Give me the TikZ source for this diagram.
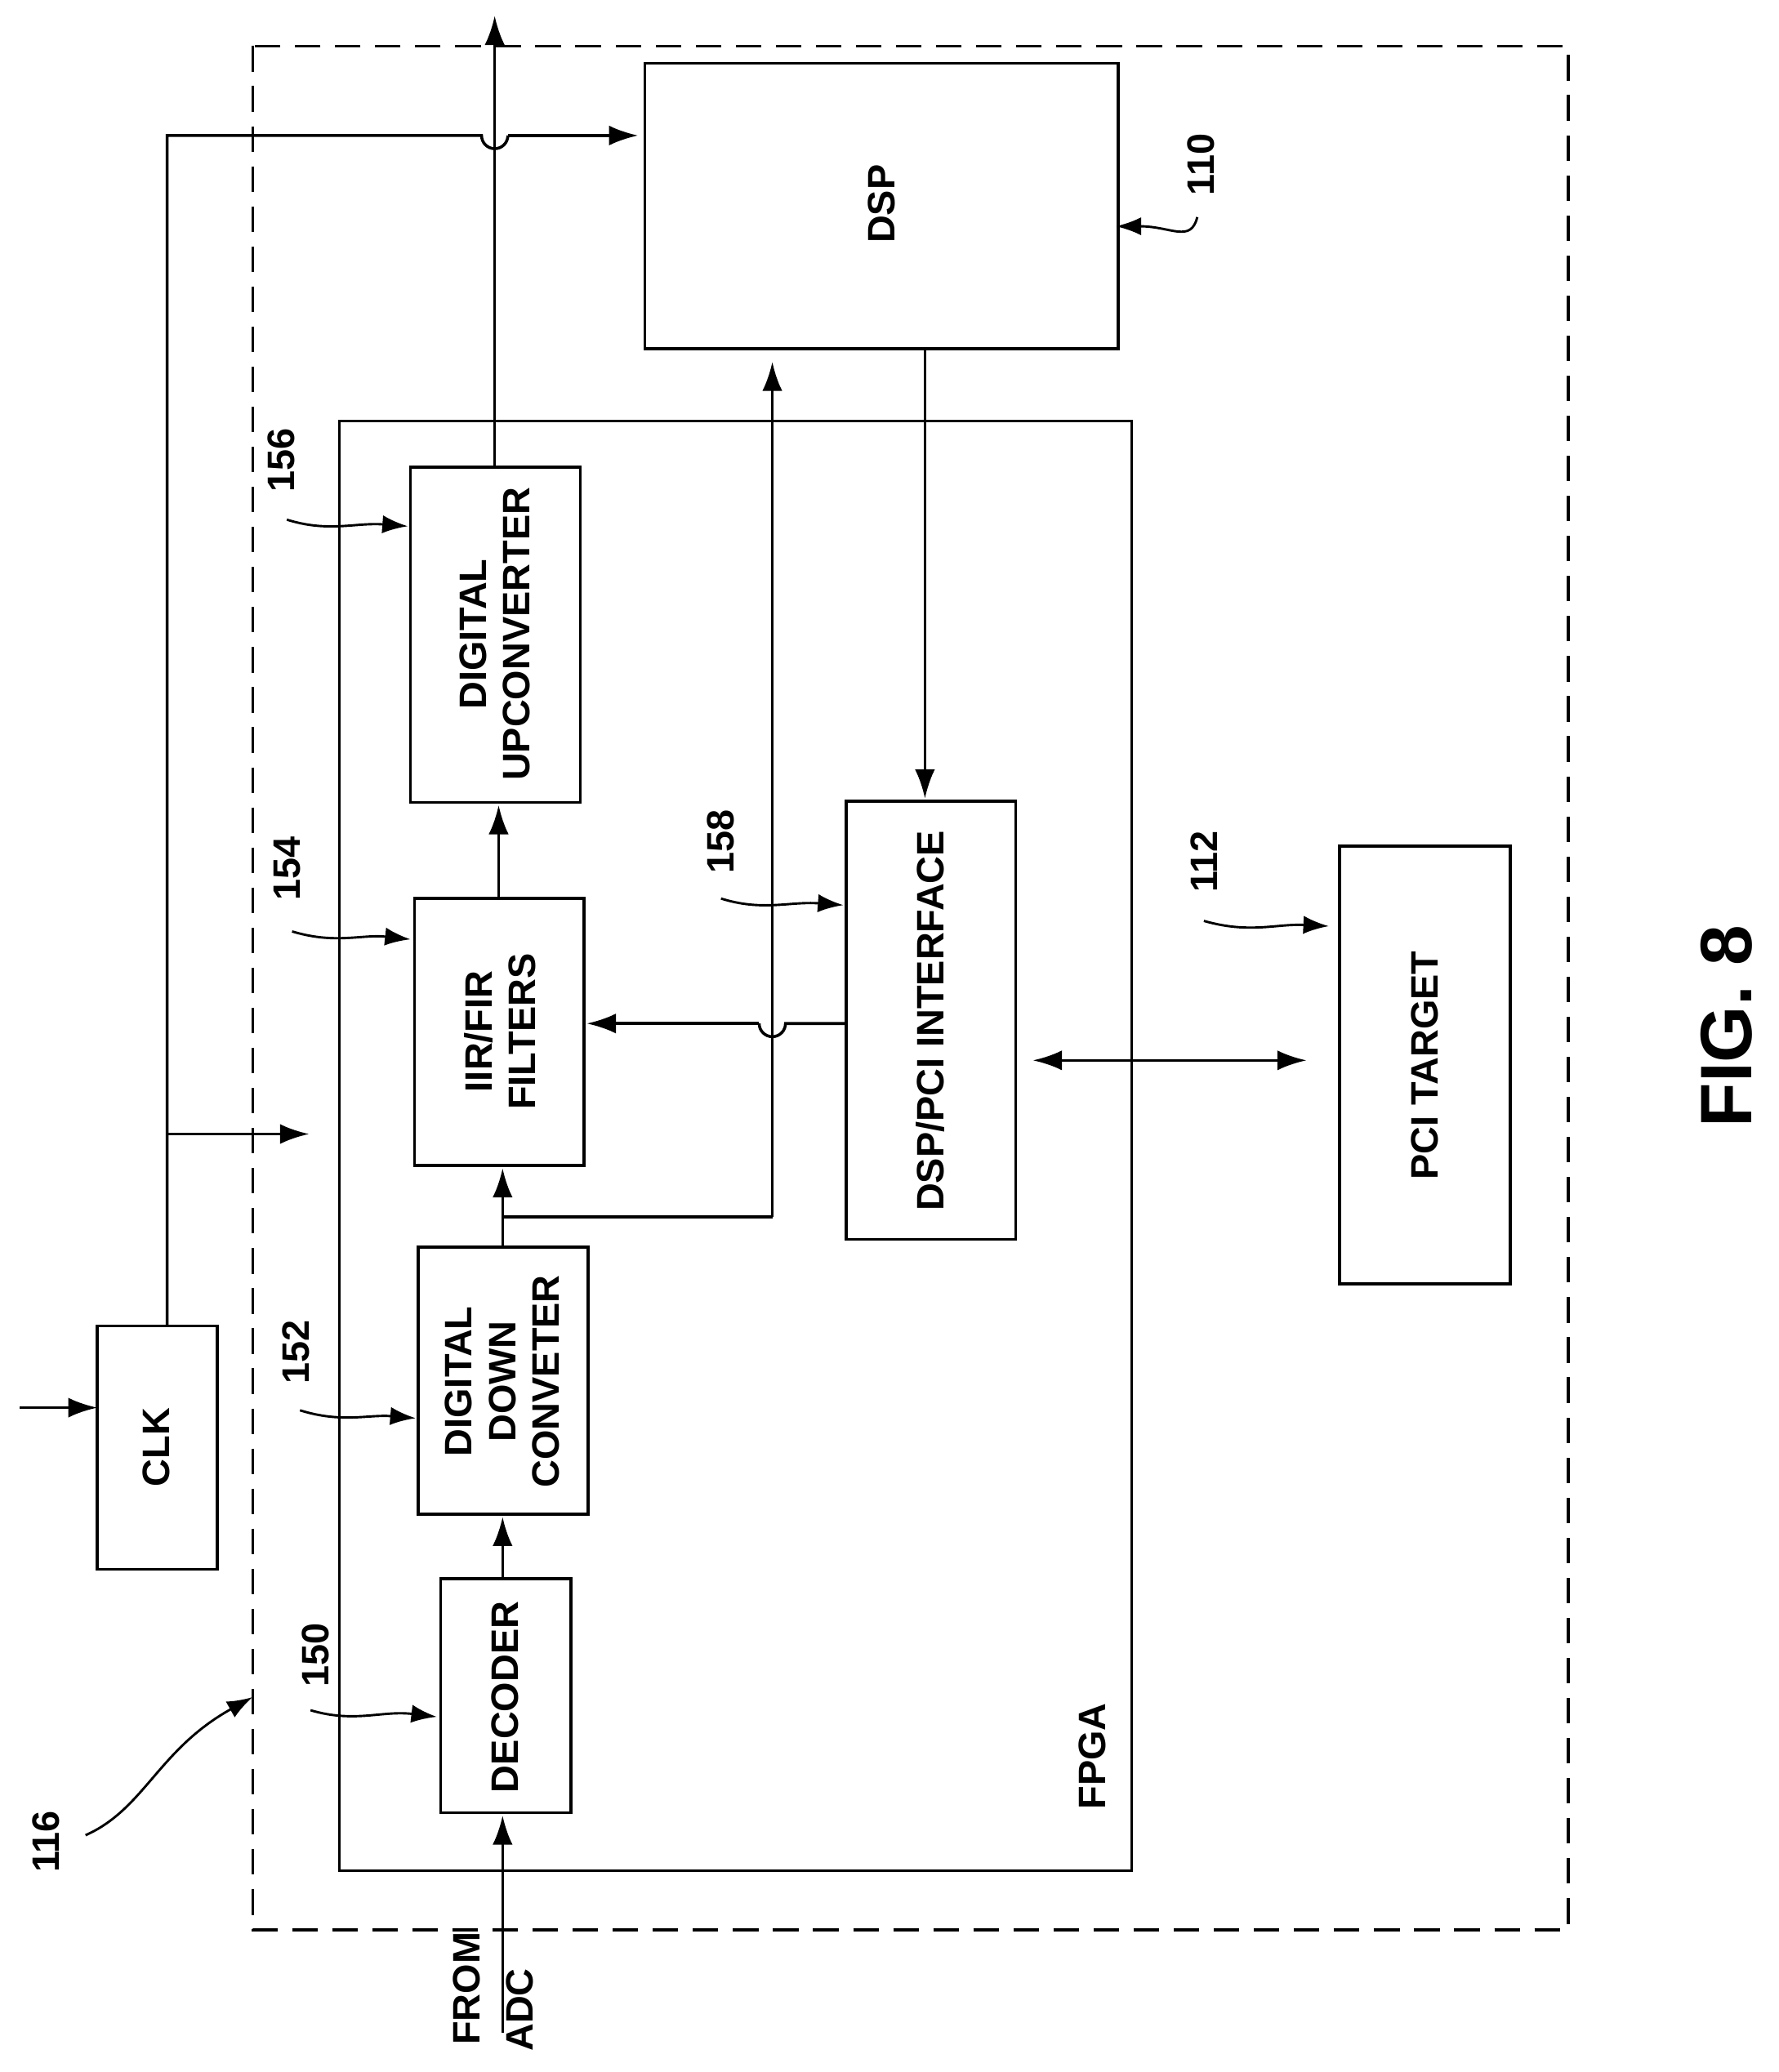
\documentclass[tikz,border=0pt]{standalone}
\usepackage{fontspec}
\setmainfont{Liberation Sans}
\usetikzlibrary{arrows.meta}
\begin{document}
\begin{tikzpicture}[x=0.01in,y=-0.01in,line width=1.6pt,
 lbl/.style={rotate=90,font=\fontsize{21}{24}\selectfont\bfseries,align=center},
 num/.style={rotate=90,font=\fontsize{21}{24}\selectfont\bfseries},
 arr/.style={-{Latex[length=16pt,width=11pt]}},
 lead/.style={-{Latex[length=14pt,width=10pt]},line width=1.3pt}]
\useasboundingbox (0,0) rectangle (1352,1575);
\draw[dashed,line width=1.5pt,dash pattern=on 14pt off 8pt] (192,35) rectangle (1192,1467);
\draw (258,320) rectangle (860,1422);
\node[lbl] (fpga) at (830,1335) {FPGA};
\draw (490,48) rectangle (850,265); \node[lbl] (dsp) at (670,155) {DSP};
\draw (312,355) rectangle (441,610); \node[lbl] (duc) at (376,482) {DIGITAL\\UPCONVERTER};
\draw (315,683) rectangle (444,886); \node[lbl] (iir) at (380,784) {IIR/FIR\\FILTERS};
\draw (318,948) rectangle (447,1151); \node[lbl] (ddc) at (382,1050) {DIGITAL\\DOWN\\CONVETER};
\draw (335,1200) rectangle (434,1378); \node[lbl] (dec) at (384,1290) {DECODER};
\draw (643,609) rectangle (772,942); \node[lbl] (ifc) at (707,776) {DSP/PCI INTERFACE};
\draw (1018,643) rectangle (1148,976); \node[lbl] (pci) at (1083,810) {PCI TARGET};
\draw (74,1008) rectangle (165,1193); \node[lbl] (clk) at (119,1100) {CLK};
\node[rotate=90,font=\fontsize{40}{44}\selectfont\bfseries] (fig) at (1312,780) {FIG. 8};
\node[lbl,anchor=west] (from) at (355,1560) {FROM};
\node[lbl,anchor=west] (adc) at (395,1565) {ADC};
% connectors
\draw[arr] (382,1545) -- (382,1380);
\draw[arr] (382,1200) -- (382,1153);
\draw[arr] (382,948) -- (382,888);
\draw (382,925) -- (587,925);
\draw[arr] (587,925) -- (587,275);
\draw[arr] (379,683) -- (379,612);
\draw[arr] (376,355) -- (376,12);
\draw (127,1008) -- (127,103) -- (366,103) arc (180:0:10) ;
\draw[arr] (386,103) -- (485,103);
\draw[arr] (127,862) -- (235,862);
\draw[arr] (15,1070) -- (74,1070);
\draw[arr] (703,265) -- (703,607);
\draw (643,778) -- (597,778) arc (0:180:10);
\draw[arr] (577,778) -- (446,778);
\draw[{Latex[length=16pt,width=11pt]}-{Latex[length=16pt,width=11pt]}] (785,806) -- (993,806);
% reference numerals
\node[num] (n116) at (35,1400) {116};
\draw[lead] (65,1395) .. controls (110,1375) and (120,1330) .. (192,1290);
\node[num] (n150) at (240,1258) {150};
\draw[lead] (236,1300) .. controls (270,1310) and (290,1300) .. (332,1305);
\node[num] (n152) at (225,1028) {152};
\draw[lead] (228,1072) .. controls (260,1082) and (280,1075) .. (316,1078);
\node[num] (n154) at (218,660) {154};
\draw[lead] (222,708) .. controls (255,718) and (275,710) .. (312,714);
\node[num] (n156) at (214,350) {156};
\draw[lead] (218,395) .. controls (250,405) and (270,397) .. (310,400);
\node[num] (n158) at (548,640) {158};
\draw[lead] (548,683) .. controls (580,693) and (600,685) .. (641,688);
\node[num] (n112) at (915,655) {112};
\draw[lead] (915,700) .. controls (950,710) and (970,702) .. (1010,704);
\node[num] (n110) at (913,125) {110};
\draw[lead] (910,165) .. controls (905,185) and (890,172) .. (848,172);
\end{tikzpicture}
\end{document}
